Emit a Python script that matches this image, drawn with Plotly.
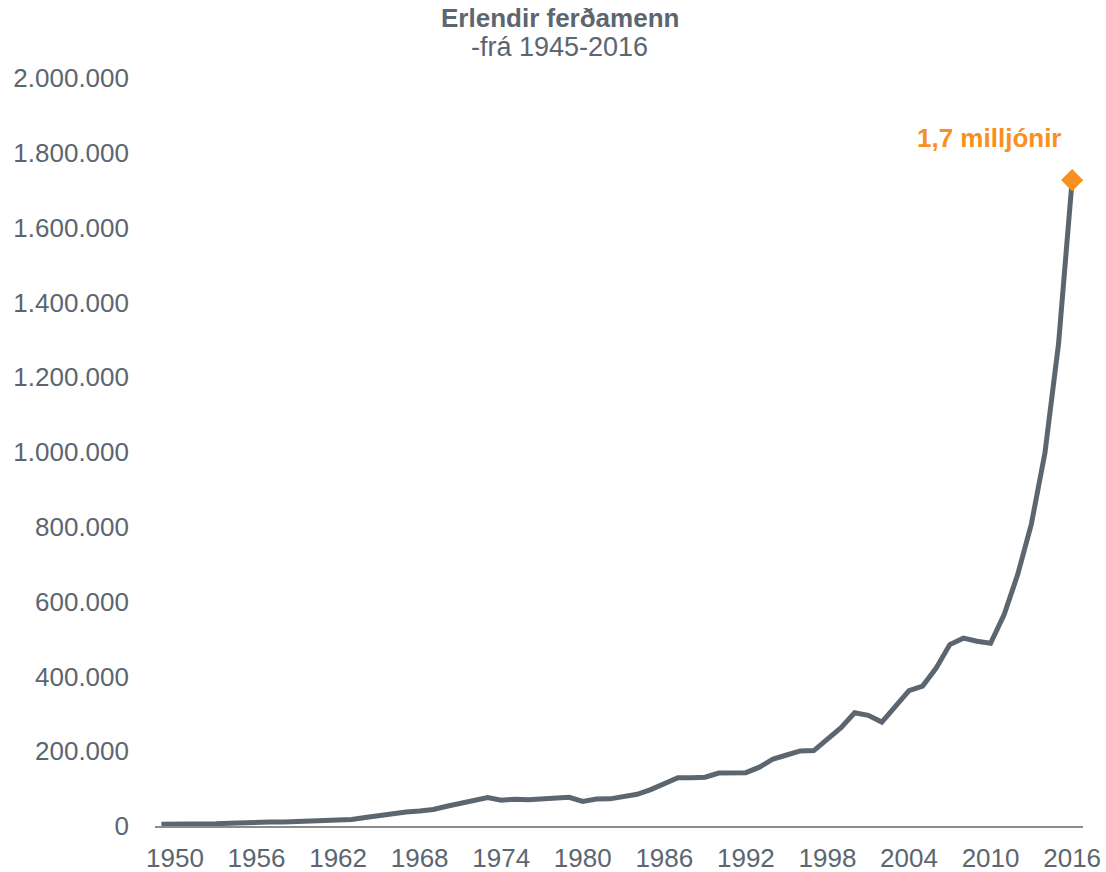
import plotly.graph_objects as go

# Erlendir ferðamenn á Íslandi, 1949-2016
years = list(range(1949, 2017))
visitors = [
    5000, 4400, 4000, 4800, 6000, 7500, 9600, 10200, 10500, 11000,
    12300, 12800, 13700, 16000, 17500, 22900, 28900, 34700, 37700, 40400,
    44300, 52900, 60700, 68000, 76000, 69000, 71700, 70200, 72700, 75700,
    76900, 65900, 71900, 72600, 77600, 84800, 97400, 113500, 129300, 128800,
    130500, 141700, 143500, 142600, 157300, 179200, 189800, 200800, 201700, 232200,
    262600, 302900, 296000, 277800, 320000, 362200, 374100, 422300, 485000, 502300,
    493900, 488600, 565600, 672800, 807300, 997600, 1289100, 1727000,
]
tick_years = list(range(1950, 2017, 6))
y_ticks = list(range(0, 2000001, 200000))

title = "Erlendir ferðamenn"
subtitle = "-frá 1945-2016"
label_last = "1,7 milljónir"

grey = "#5B6670"
orange = "#F7901E"
font = "Liberation Sans, Arial, sans-serif"

fig = go.Figure()

fig.add_trace(go.Scatter(
    x=years, y=visitors, mode="lines",
    line=dict(color=grey, width=5),
    hoverinfo="x+y", showlegend=False,
))

# síðasti punkturinn merktur með tígli
fig.add_trace(go.Scatter(
    x=[years[-1]], y=[visitors[-1]], mode="markers",
    marker=dict(symbol="diamond", size=17, color=orange),
    showlegend=False,
))

fig.add_annotation(
    x=years[-1], y=visitors[-1], xref="x", yref="y",
    text="<b>" + label_last + "</b>", showarrow=False,
    xshift=-83, yshift=42,
    font=dict(family=font, size=26, color=orange),
)

fig.add_annotation(
    x=0.4364, y=1.0796, xref="paper", yref="paper",
    text="<b>" + title + "</b>", showarrow=False,
    xanchor="center", yanchor="middle",
    font=dict(family=font, size=26, color=grey),
)
fig.add_annotation(
    x=0.4364, y=1.0408, xref="paper", yref="paper",
    text=subtitle, showarrow=False,
    xanchor="center", yanchor="middle",
    font=dict(family=font, size=27, color=grey),
)

fig.update_layout(
    width=1106, height=872,
    margin=dict(l=155, r=23, t=78, b=46),
    paper_bgcolor="white", plot_bgcolor="white",
    separators=",.",
    font=dict(family=font, size=26, color=grey),
    xaxis=dict(
        range=[1948.53, 2016.8],
        tickvals=tick_years,
        automargin=False,
        showgrid=False, zeroline=False,
        showline=True, linecolor="#8C8C8C", linewidth=2,
        ticks="", ticklabelstandoff=8,
        tickfont=dict(size=26, color=grey),
    ),
    yaxis=dict(
        range=[0, 2000000],
        tickvals=y_ticks,
        tickformat=",d",
        automargin=False,
        showgrid=False, zeroline=False, showline=False,
        ticks="", ticklabelstandoff=25,
        tickfont=dict(size=26, color=grey),
    ),
)

# ekkert spássíubil í kringum myndina á síðunni
fig.write_html(
    "out.html",
    config={"displayModeBar": False},
    post_script="document.body.style.margin='0';",
)
